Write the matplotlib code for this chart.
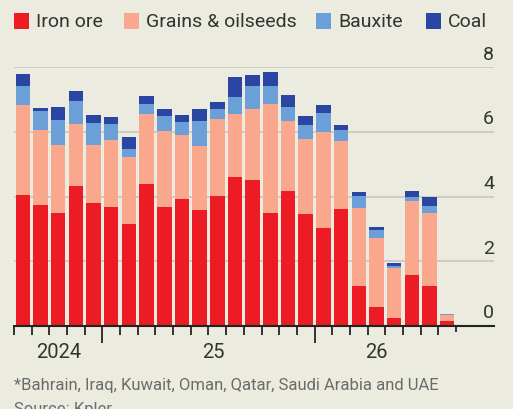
import matplotlib
matplotlib.use("Agg")
import matplotlib.pyplot as plt
from matplotlib.patches import Rectangle
from matplotlib.transforms import blended_transform_factory
import numpy as np

plt.rcParams['font.family'] = ['Roboto', 'DejaVu Sans']

series_names = ["Iron ore", "Grains & oilseeds", "Bauxite", "Coal"]
iron_ore = [4.05, 3.75, 3.48, 4.32, 3.80, 3.66, 3.14, 4.39, 3.66, 3.91, 3.58, 4.03, 4.60,
            4.50, 3.50, 4.16, 3.46, 3.04, 3.62, 1.23, 0.59, 0.25, 1.57, 1.23, 0.16]
grains = [2.79, 2.32, 2.10, 1.92, 1.80, 2.10, 2.07, 2.17, 2.36, 1.98, 1.98, 2.38, 1.96,
          2.22, 3.37, 2.19, 2.31, 2.97, 2.09, 2.41, 2.13, 1.55, 2.28, 2.26, 0.18]
bauxite = [0.58, 0.58, 0.80, 0.71, 0.67, 0.47, 0.26, 0.31, 0.46, 0.42, 0.79, 0.29, 0.52,
           0.69, 0.55, 0.42, 0.45, 0.59, 0.34, 0.39, 0.23, 0.06, 0.12, 0.21, 0.02]
coal = [0.38, 0.09, 0.38, 0.33, 0.24, 0.22, 0.38, 0.25, 0.24, 0.22, 0.37, 0.23, 0.62,
        0.34, 0.42, 0.38, 0.26, 0.22, 0.17, 0.11, 0.11, 0.07, 0.20, 0.28, 0.0]
year_labels = ["2024", "25", "26"]
y_ticks = [0, 2, 4, 6, 8]

colors = ["#ED1C24", "#F9A88E", "#6A9FD8", "#2B45A2"]
bg = "#ECEBDF"

fig = plt.figure(figsize=(5.31, 4.10), dpi=100)
fig.patch.set_facecolor(bg)
fig.patches.append(Rectangle((513/531, 0), 1 - 513/531, 1, transform=fig.transFigure,
                             facecolor="white", edgecolor="none", zorder=0))

ax = fig.add_axes([14/531, 1 - 326.7/410, 480/531, (326.7 - 68.3)/410])
ax.set_facecolor("none")

x = np.arange(len(iron_ore))
bottom = np.zeros(len(x))
for vals, c in zip([iron_ore, grains, bauxite, coal], colors):
    ax.bar(x, vals, bottom=bottom, width=0.82, color=c, edgecolor="none", zorder=3)
    bottom += np.array(vals)

ax.set_xlim(-0.5, 26.65)
ax.set_ylim(0, 8)

for s in ["left", "right", "top"]:
    ax.spines[s].set_visible(False)
ax.spines["bottom"].set_color("#222222")
ax.spines["bottom"].set_linewidth(1.5)
ax.spines["bottom"].set_zorder(5)

for yv in y_ticks[1:]:
    ax.axhline(yv, color="#C9C8BE", lw=1.2, zorder=1)

ax.set_yticks([])
tr = blended_transform_factory(ax.transAxes, ax.transData)
for yv in y_ticks:
    ax.text(1.0, yv + 0.14, str(yv), transform=tr, ha="right", va="bottom",
            fontsize=14, color="#333333")

# x ticks
n = len(x)
minor_pos = [i - 0.5 for i in range(n)]
major_pos = [4.5, 16.5]
minor_only = [p for p in minor_pos if p not in major_pos]
ax.set_xticks(major_pos)
ax.set_xticklabels([])
ax.set_xticks(minor_only, minor=True)
ax.tick_params(axis="x", which="major", length=12, width=1.4, color="#333333")
ax.tick_params(axis="x", which="minor", length=6.5, width=1.4, color="#333333")
trx = blended_transform_factory(ax.transData, ax.transAxes)
ax.plot([n - 0.5, n - 0.5], [0, -0.022], transform=trx, color="#333333", lw=1.4,
        clip_on=False, zorder=5)

for lbl, xp in zip(year_labels, [2.0, 10.8, 20.0]):
    ax.text(xp, -0.1, lbl, transform=trx, ha="center", va="center",
            fontsize=14.5, color="#333333")

# legend
leg_items = [(14, 36), (124, 146), (316, 338), (426, 448)]
for (sx, tx), c, name in zip(leg_items, colors, series_names):
    fig.patches.append(Rectangle((sx/531, 1 - 30/410), 15/531, 16/410,
                                 transform=fig.transFigure, facecolor=c,
                                 edgecolor="none"))
    fig.text(tx/531, 1 - 22/410, name, ha="left", va="center", fontsize=14,
             color="#333333")

fig.text(14/531, 1 - 386/410, "*Bahrain, Iraq, Kuwait, Oman, Qatar, Saudi Arabia and UAE",
         ha="left", va="center", fontsize=12, color="#6b6b6b")
fig.text(14/531, 1 - 410/410, "Source: Kpler", ha="left", va="center",
         fontsize=12, color="#6b6b6b")

fig.savefig("out.png", dpi=100, facecolor=fig.get_facecolor())
